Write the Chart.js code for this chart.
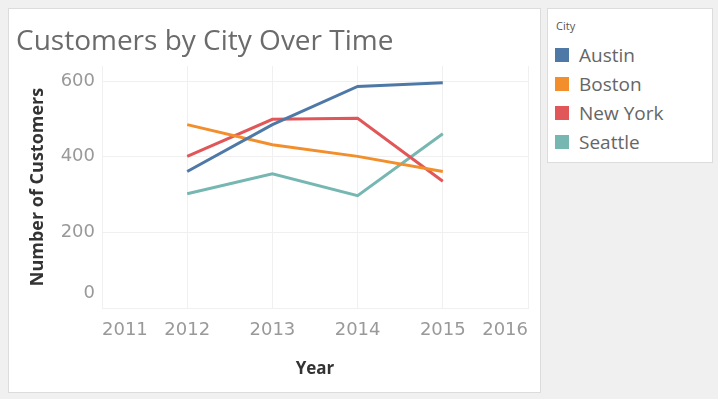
<!DOCTYPE html>
<html>
<head>
<meta charset="utf-8">
<script src="https://cdn.jsdelivr.net/npm/chart.js@4"></script>
<style>
  body { margin: 0; background: #f0f0f0; width: 718px; height: 399px; overflow: hidden; font-family: "Open Sans", sans-serif; }
  .panel { position: absolute; left: 8px; top: 8px; width: 531px; height: 383px; background: #fff; border: 1px solid #dcdcdc; }
  .title { position: absolute; left: 7px; top: 11px; font-size: 28px; color: #6b6b6b; white-space: nowrap; }
  .legend { position: absolute; left: 547px; top: 8px; width: 164px; height: 153px; background: #fff; border: 1px solid #dcdcdc; }
  .legend-head { font-size: 11px; color: #555; padding: 9px 0 0 8px; height: 22px; }
  .legend-item { display: flex; align-items: center; height: 29px; padding-left: 7px; font-size: 19px; color: #666; }
  .swatch { width: 14px; height: 14px; margin-right: 10px; }
  #chart-wrap { position: absolute; left: 0; top: 0; width: 531px; height: 383px; }
</style>
</head>
<body>
<div class="panel">
  <div id="chart-wrap"><canvas id="city-chart"></canvas></div>
  <div class="title">Customers by City Over Time</div>
</div>
<div class="legend" id="legend">
  <div class="legend-head">City</div>
</div>
<script>
// Chart data
const years = [2012, 2013, 2014, 2015];
const cities = ['Austin', 'Boston', 'New York', 'Seattle'];
const austin = [361, 485, 586, 596];
const boston = [485, 432, 401, 361];
const newYork = [401, 499, 502, 335];
const seattle = [302, 355, 297, 461];
const yTicks = [0, 200, 400, 600];
const colors = ['#4e79a7', '#f28e2b', '#e15759', '#76b7b2'];

const series = [austin, boston, newYork, seattle];

// legend
const legendEl = document.getElementById('legend');
cities.forEach(function(name, i) {
  const row = document.createElement('div');
  row.className = 'legend-item';
  row.innerHTML = '<span class="swatch" style="background:' + colors[i] + '"></span>' + name;
  legendEl.appendChild(row);
});

const ctx = document.getElementById('city-chart');
new Chart(ctx, {
  type: 'line',
  data: {
    datasets: cities.map(function(name, i) {
      return {
        label: name,
        data: years.map(function(y, j) { return { x: y, y: series[i][j] }; }),
        borderColor: colors[i],
        backgroundColor: colors[i],
        borderWidth: 3,
        pointRadius: 0,
        tension: 0
      };
    })
  },
  options: {
    responsive: true,
    maintainAspectRatio: false,
    animation: false,
    layout: { padding: { top: 57, right: 11, left: 0, bottom: 0 } },
    plugins: { legend: { display: false }, tooltip: { enabled: false } },
    scales: {
      x: {
        type: 'linear',
        min: 2011,
        max: 2016,
        grid: { color: '#f0f0f0', drawTicks: false },
        border: { color: '#f0f0f0' },
        ticks: {
          stepSize: 1,
          align: 'inner',
          padding: 12,
          color: '#999',
          font: { family: 'DejaVu Sans', size: 18 },
          callback: function(v) { return String(v); }
        },
        title: {
          display: true,
          text: 'Year',
          color: '#333',
          font: { family: 'Open Sans', size: 17, weight: 'bold' },
          padding: { top: 8, bottom: 13 }
        },
        afterFit: function(scale) { scale.height = 84; }
      },
      y: {
        min: 0,
        max: 640,
        grid: { color: '#f0f0f0', drawTicks: false },
        border: { color: '#f0f0f0' },
        afterBuildTicks: function(scale) {
          scale.ticks = yTicks.map(function(v) { return { value: v }; });
        },
        ticks: {
          padding: 7,
          color: '#999',
          font: function(c) {
            return { family: 'DejaVu Sans', size: 18, lineHeight: c.index === 0 ? 1.65 : 1.2 };
          },
          // bottom label sits just above the axis edge, as in the original
          callback: function(v) { return v === 0 ? ['0', ''] : String(v); }
        },
        title: {
          display: true,
          text: 'Number of Customers',
          color: '#333',
          font: { family: 'Open Sans', size: 18, weight: 'bold' },
          padding: { top: 18, bottom: 4 }
        },
        afterFit: function(scale) { scale.width = 93; }
      }
    }
  }
});
</script>
</body>
</html>
